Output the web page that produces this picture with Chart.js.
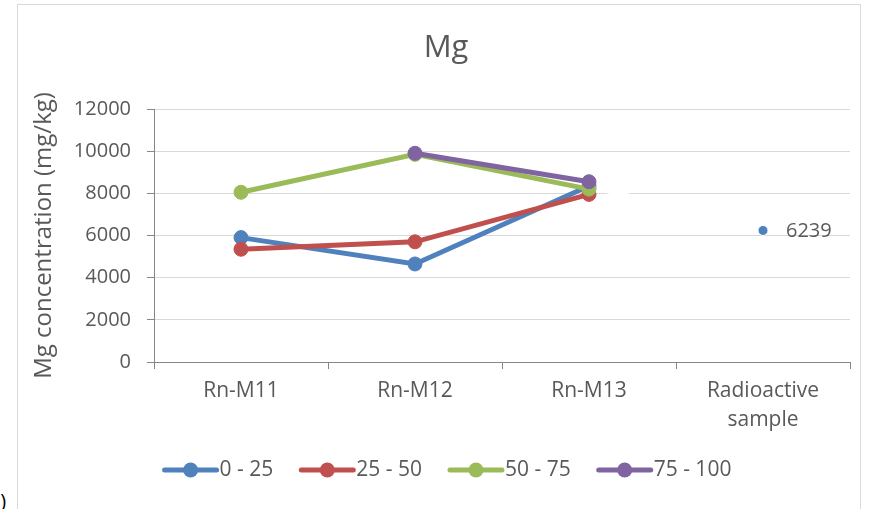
<!DOCTYPE html>
<html>
<head>
<meta charset="utf-8">
<script src="https://cdn.jsdelivr.net/npm/chart.js@4.4.0/dist/chart.umd.min.js"></script>
<style>
  html, body { margin: 0; padding: 0; background: #fff; }
  body { width: 874px; height: 509px; position: relative; overflow: hidden; font-family: 'Open Sans', sans-serif; }
  #frame { position: absolute; left: 17px; top: 4px; width: 842px; height: 600px; border: 1px solid #d9d9d9; }
  #chart { position: absolute; left: 0; top: 0; }
  #tag { position: absolute; left: -12px; top: 487px; font-size: 20px; color: #000; }
</style>
</head>
<body>
<div id="frame"></div>
<div id="tag">b)</div>
<canvas id="chart" width="874" height="509"></canvas>
<script>
// data
const chartTitle = 'Mg';
const yAxisTitle = 'Mg concentration (mg/kg)';
const categories = ['Rn-M11', 'Rn-M12', 'Rn-M13', ['Radioactive', 'sample']];
const seriesNames = ['0 - 25', '25 - 50', '50 - 75', '75 - 100'];
const depth0to25 = [5900, 4650, 8350, 6239];
const depth25to50 = [5350, 5700, 7950, null];
const depth50to75 = [8050, 9850, 8200, null];
const depth75to100 = [null, 9900, 8550, null];
const yTicks = [0, 2000, 4000, 6000, 8000, 10000, 12000];

const colors = ['#4f81bd', '#c0504d', '#9bbb59', '#8064a2'];
const textColor = '#595959';
const axisColor = '#868686';
const gridColor = '#d9d9d9';

Chart.defaults.font.family = "'Open Sans', sans-serif";
Chart.defaults.color = textColor;

function makeSeries(i, values) {
    return {
        label: seriesNames[i],
        data: values,
        borderColor: colors[i],
        backgroundColor: colors[i],
        pointBackgroundColor: colors[i],
        pointBorderColor: colors[i],
        borderWidth: 5,
        pointRadius: 7,
        pointBorderWidth: 1,
        spanGaps: false,
        order: 4 - i
    };
}

const datasets = [
    makeSeries(0, depth0to25),
    makeSeries(1, depth25to50),
    makeSeries(2, depth50to75),
    makeSeries(3, depth75to100)
];
// the radioactive sample point is not joined to the line
datasets[0].pointRadius = [7, 7, 7, 5];
datasets[0].pointBorderColor = [colors[0], colors[0], colors[0], '#ffffff'];
datasets[0].segment = {
    borderColor: c => c.p1DataIndex === 3 ? '#ffffff' : undefined
};

// title, legend and the data label
const extras = {
    id: 'extras',
    afterDraw(chart) {
        const ctx = chart.ctx;
        ctx.save();
        ctx.fillStyle = textColor;

        // title
        ctx.font = "31px 'Open Sans'";
        ctx.textAlign = 'center';
        ctx.textBaseline = 'alphabetic';
        ctx.fillText(chartTitle, 446, 57);

        // label on the radioactive sample point
        const pt = chart.getDatasetMeta(0).data[3];
        ctx.font = "20px 'Open Sans'";
        ctx.textAlign = 'left';
        ctx.textBaseline = 'middle';
        ctx.fillText(String(depth0to25[3]), pt.x + 23, pt.y + 1);

        // legend
        ctx.font = "21px 'Open Sans'";
        const lineLen = 56, gap = 1, spacing = 26, legendY = 470;
        const widths = seriesNames.map(n => ctx.measureText(n).width);
        let total = widths.reduce((a, w) => a + lineLen + gap + w, 0) + spacing * (seriesNames.length - 1);
        let x = 447 - total / 2;
        seriesNames.forEach((name, i) => {
            ctx.strokeStyle = colors[i];
            ctx.lineWidth = 5;
            ctx.lineCap = 'round';
            ctx.beginPath();
            ctx.moveTo(x + 2, legendY);
            ctx.lineTo(x + lineLen - 2, legendY);
            ctx.stroke();
            ctx.fillStyle = colors[i];
            ctx.beginPath();
            ctx.arc(x + lineLen / 2, legendY, 7.5, 0, Math.PI * 2);
            ctx.fill();
            ctx.fillStyle = textColor;
            ctx.textAlign = 'left';
            ctx.textBaseline = 'middle';
            ctx.fillText(name, x + lineLen + gap, legendY);
            x += lineLen + gap + widths[i] + spacing;
        });
        ctx.restore();
    }
};

const chart = new Chart(document.getElementById('chart'), {
    type: 'line',
    data: { labels: categories, datasets: datasets },
    options: {
        responsive: false,
        animation: false,
        layout: { padding: { top: 109, left: 0, right: 24, bottom: 0 } },
        plugins: {
            legend: { display: false },
            title: { display: false },
            tooltip: { enabled: false }
        },
        scales: {
            x: {
                offset: true,
                grid: {
                    offset: true,
                    drawOnChartArea: false,
                    drawTicks: true,
                    tickLength: 7,
                    tickColor: axisColor
                },
                border: { color: axisColor, width: 1 },
                ticks: {
                    color: textColor,
                    font: { size: 21, lineHeight: 1.4 },
                    padding: 7,
                    maxRotation: 0,
                    autoSkip: false
                },
                afterFit(scale) { scale.height = 147; }
            },
            y: {
                min: 0,
                max: 12000,
                afterBuildTicks(scale) { scale.ticks = yTicks.map(v => ({ value: v })); },
                grid: {
                    color: gridColor,
                    lineWidth: 1,
                    tickLength: 7,
                    tickColor: axisColor
                },
                border: { color: axisColor, width: 1 },
                ticks: {
                    color: textColor,
                    font: { size: 20 },
                    padding: 16,
                    callback: v => String(v)
                },
                title: {
                    display: true,
                    text: yAxisTitle,
                    color: textColor,
                    font: { size: 24 },
                    padding: { top: 30, bottom: 0 }
                },
                afterFit(scale) { scale.width = 154; }
            }
        }
    },
    plugins: [extras]
});
</script>
</body>
</html>
